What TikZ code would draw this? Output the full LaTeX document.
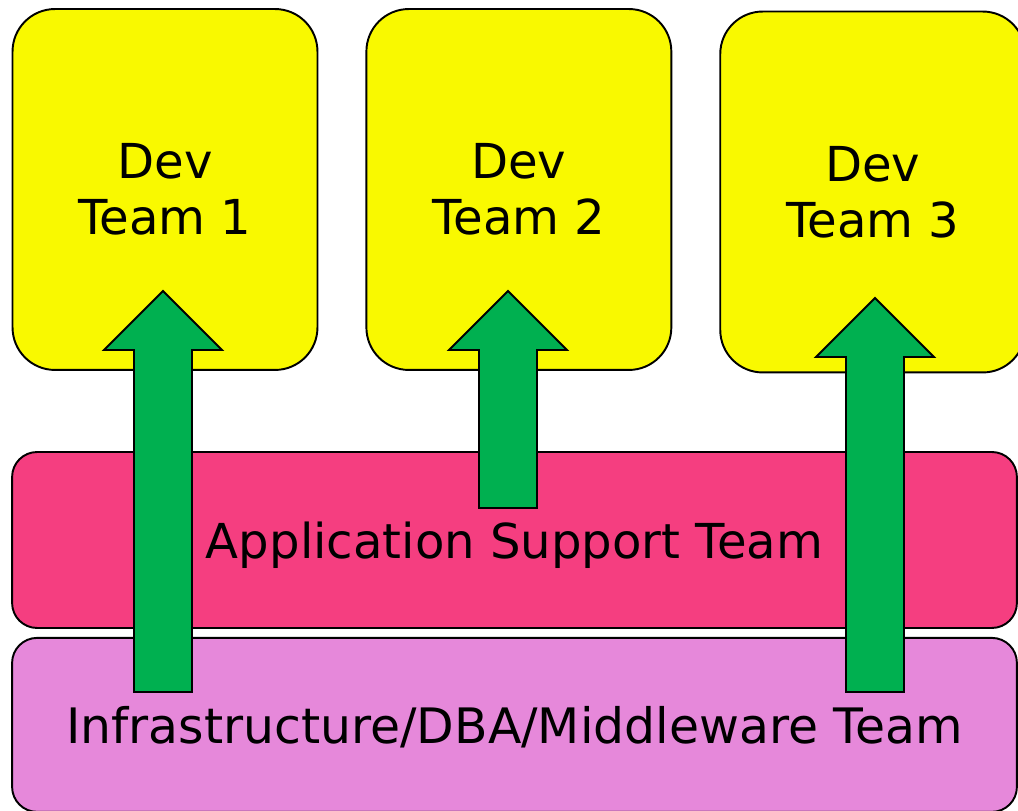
\documentclass[tikz,border=0pt]{standalone}
\usepackage{fontspec}
\setmainfont{DejaVu Sans}
\usetikzlibrary{positioning}
\usetikzlibrary{calc}

\definecolor{devyellow}{RGB}{249,249,0}
\definecolor{apppink}{RGB}{245,62,128}
\definecolor{infrapink}{RGB}{230,136,218}
\definecolor{liftgreen}{RGB}{0,176,80}
\newcommand{\teamfont}{\fontsize{27.4}{32}\selectfont}
% block arrow from a base point up to a tip point
\newcommand{\liftarrow}[2]{%
	\draw [lift] ($(#1)+(-29,0)$) -- ($(#2)+(-29,-59)$) -- ($(#2)+(-59,-59)$) -- (#2)
		-- ($(#2)+(59,-59)$) -- ($(#2)+(29,-59)$) -- ($(#1)+(29,0)$) -- cycle;}

\begin{document}
\begin{tikzpicture}[x=0.02cm, y=0.02cm]
	\tikzstyle{dev} = [draw, fill=devyellow, line width=1.1pt, rounded corners=0.85cm, minimum width=6.1cm, minimum height=7.22cm, align=center, font=\teamfont]
	\tikzstyle{bar} = [draw, line width=1.1pt, rounded corners=0.5cm, minimum width=20.1cm, minimum height=3.5cm, text depth=0pt, font=\teamfont]
	\tikzstyle{lift} = [draw, fill=liftgreen, line width=1.1pt, line join=miter]
	
	\clip (0,0) rectangle (1018,811);
	
	\node [dev] (dev1) at (165,621.5) {Dev\\Team 1};
	\node [dev, right=0.94cm of dev1] (dev2) {Dev\\Team 2};
	\node [dev, right=0.94cm of dev2, yshift=-0.05cm] (dev3) {Dev\\Team 3};
	\node [bar, fill=apppink, minimum height=3.52cm] (app) at (514.5,271) {Application Support Team};
	\node [bar, fill=infrapink, minimum height=3.48cm, below=0.16cm of app] (infra) {\fontsize{27.8}{32}\selectfont Infrastructure/DBA/Middleware Team};
	
	\coordinate (base1) at (163,119);
	\coordinate (tip1) at (163,520);
	\coordinate (base2) at (508,303);
	\coordinate (tip2) at (508,520);
	\coordinate (base3) at (875,119);
	\coordinate (tip3) at (875,513);
	
	\liftarrow{base1}{tip1}
	\liftarrow{base2}{tip2}
	\liftarrow{base3}{tip3}
\end{tikzpicture}
\end{document}
